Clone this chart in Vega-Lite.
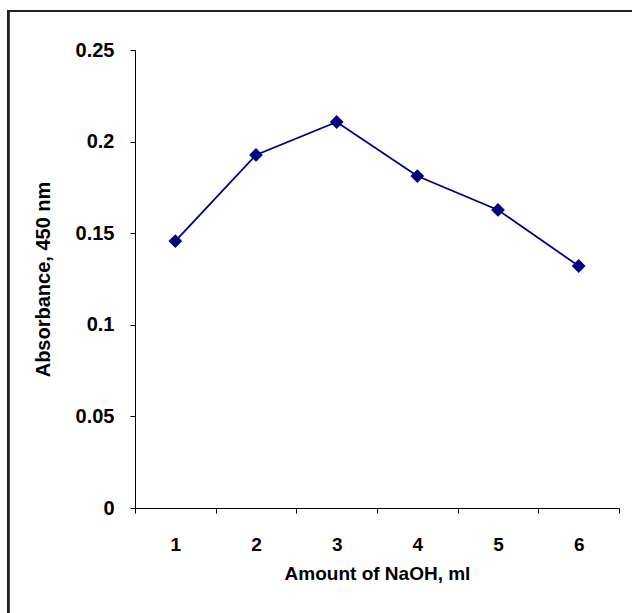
{
  "$schema": "https://vega.github.io/schema/vega-lite/v6.json",
  "autosize": {"type": "none"},
  "padding": {"left": 135, "top": 50, "right": 13, "bottom": 105},
  "width": 484,
  "height": 458,
  "background": "white",
  "config": {
    "view": {"stroke": null},
    "font": "Liberation Sans",
    "axis": {
      "labelFont": "Liberation Sans",
      "titleFont": "Liberation Sans",
      "labelFontWeight": "bold",
      "titleFontWeight": "bold",
      "labelColor": "black",
      "titleColor": "black",
      "domainColor": "black",
      "tickColor": "black",
      "grid": false
    }
  },
  "data": {
    "values": [
      {"naoh": 1, "absorbance": 0.1457},
      {"naoh": 2, "absorbance": 0.1927},
      {"naoh": 3, "absorbance": 0.2107},
      {"naoh": 4, "absorbance": 0.1812},
      {"naoh": 5, "absorbance": 0.1627},
      {"naoh": 6, "absorbance": 0.1321}
    ]
  },
  "layer": [
    {
      "mark": {"type": "rect", "fill": null, "stroke": "#222222", "strokeWidth": 1.8, "clip": false},
      "encoding": {
        "x": {"datum": -1.07, "type": "quantitative", "scale": {"domain": [0.5, 6.5], "nice": false, "zero": false},
          "axis": {
            "orient": "bottom",
            "values": [0.5, 1, 1.5, 2, 2.5, 3, 3.5, 4, 4.5, 5, 5.5, 6, 6.5],
            "labelExpr": "datum.value % 1 === 0 ? format(datum.value, 'd') : ''",
            "tickOpacity": {"condition": {"test": "datum.value % 1 === 0", "value": 0}, "value": 1},
            "tickSize": 5,
            "labelPadding": 22,
            "labelFontSize": 19,
            "labelFlush": false,
            "labelOverlap": false,
            "title": "Amount of NaOH, ml",
            "titleFontSize": 19,
            "titlePadding": 10
          }},
        "x2": {"datum": 6.8},
        "y": {"datum": 0.2713, "type": "quantitative", "scale": {"domain": [0, 0.25], "nice": false},
          "axis": {"orient": "left", "values": [0, 0.05, 0.1, 0.15, 0.2, 0.25], "format": "~g", "tickSize": 5, "labelPadding": 16, "labelFontSize": 20, "title": "Absorbance, 450 nm", "titleFontSize": 20, "titlePadding": 22}},
        "y2": {"datum": -0.08}
      }
    },
    {
      "mark": {"type": "line", "color": "#000080", "strokeWidth": 1.8},
      "encoding": {
        "x": {"field": "naoh", "type": "quantitative"},
        "y": {"field": "absorbance", "type": "quantitative"}
      }
    },
    {
      "mark": {"type": "point", "shape": "diamond", "filled": true, "color": "#000080", "size": 190, "opacity": 1},
      "encoding": {
        "x": {"field": "naoh", "type": "quantitative"},
        "y": {"field": "absorbance", "type": "quantitative"}
      }
    }
  ]
}
